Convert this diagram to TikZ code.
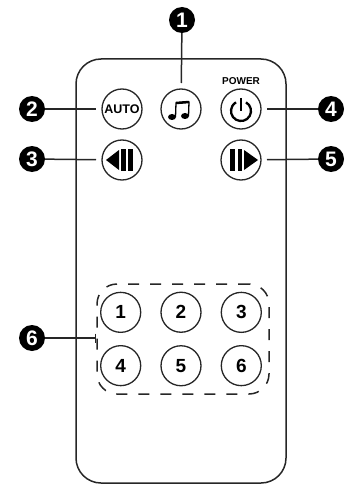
\documentclass[tikz,border=0pt]{standalone}
\usepackage{fontspec}
\setmainfont{Liberation Sans}
\usetikzlibrary{matrix,positioning,arrows.meta}

\tikzset{
    button/.style={draw=black!85, circle, line width=1.3pt, minimum size=40pt, inner sep=0pt, outer sep=0pt},
    badge/.style={fill=black, text=white, circle, minimum size=26pt, inner sep=0pt, font=\fontsize{21}{21}\selectfont\bfseries},
    lead/.style={draw=black!85, line width=1.5pt, shorten >=6pt}
}

\begin{document}
\begin{tikzpicture}[x=1pt,y=-1pt]
            \useasboundingbox (0,0) rectangle (345,484);
            \draw[black!85, line width=1.5pt, rounded corners=25pt] (76,59) rectangle (286,483);

            \node[button, font=\fontsize{12.5}{12.5}\selectfont\bfseries] (auto) at (122,109) {AUTO};
            \node[button] (music) at (181,109) {};
            \node[button] (power) at (241,109) {};
            \node[button] (rewind) at (122,160) {};
            \node[button] (forward) at (241,160) {};
            \node[font=\fontsize{10}{10}\selectfont\bfseries, inner sep=0pt, above=4pt of power] (powerlabel) {POWER};

            \matrix (m) [matrix of nodes, nodes={button, font=\fontsize{19}{19}\selectfont\bfseries}, column sep=19pt, row sep=12pt] at (181,339) {
                1 & 2 & 3 \\
                4 & 5 & 6 \\
            };
            \node[draw=black!85, line width=1.5pt, dash pattern=on 11pt off 11pt, rounded corners=20pt, minimum width=172pt, minimum height=110pt] (group) at (183,339) {};

            \begin{scope}[shift={(music.center)}]
                \fill (-9,8) ellipse (4pt and 3pt);
                \fill (4,7) ellipse (4pt and 3pt);
                \draw[line width=1.3pt] (-5.5,8) -- (-5,-6) -- (8,-7) -- (7.5,7);
                \draw[line width=2.5pt] (-5,-6) -- (8,-7);
            \end{scope}
            \begin{scope}[shift={(power.center)}]
                \draw[line width=2.3pt] (5,-6.66) arc[start angle=60, end angle=-240, radius=10pt];
                \draw[line width=2.3pt] (0,-11) -- (0,2);
            \end{scope}
            \begin{scope}[shift={(rewind.center)}]
                \fill (-16,0) -- (-3,-10) -- (-3,10) -- cycle;
                \fill (-1,-11) rectangle (4,11);
                \fill (6,-11) rectangle (11,11);
            \end{scope}
            \begin{scope}[shift={(forward.center)}]
                \fill (17,0) -- (3,-10) -- (3,10) -- cycle;
                \fill (1,-11) rectangle (-3,11);
                \fill (-6,-11) rectangle (-11,11);
            \end{scope}

            \node[badge] (b1) at (182,20) {1};
            \node[badge] (b2) at (32,109) {2};
            \node[badge] (b3) at (32,159) {3};
            \node[badge] (b4) at (331,109) {4};
            \node[badge] (b5) at (331,159) {5};
            \node[badge] (b6) at (32,338) {6};

            \draw[lead] (b1) -- (music);
            \draw[lead] (b2) -- (auto);
            \draw[lead] (b3) -- (rewind);
            \draw[lead] (b4) -- (power);
            \draw[lead] (b5) -- (forward);
            \draw[draw=black!85, line width=1.5pt, -{Bar[width=9pt]}] (b6) -- (b6 -| group.west);
        \end{tikzpicture}
\end{document}
